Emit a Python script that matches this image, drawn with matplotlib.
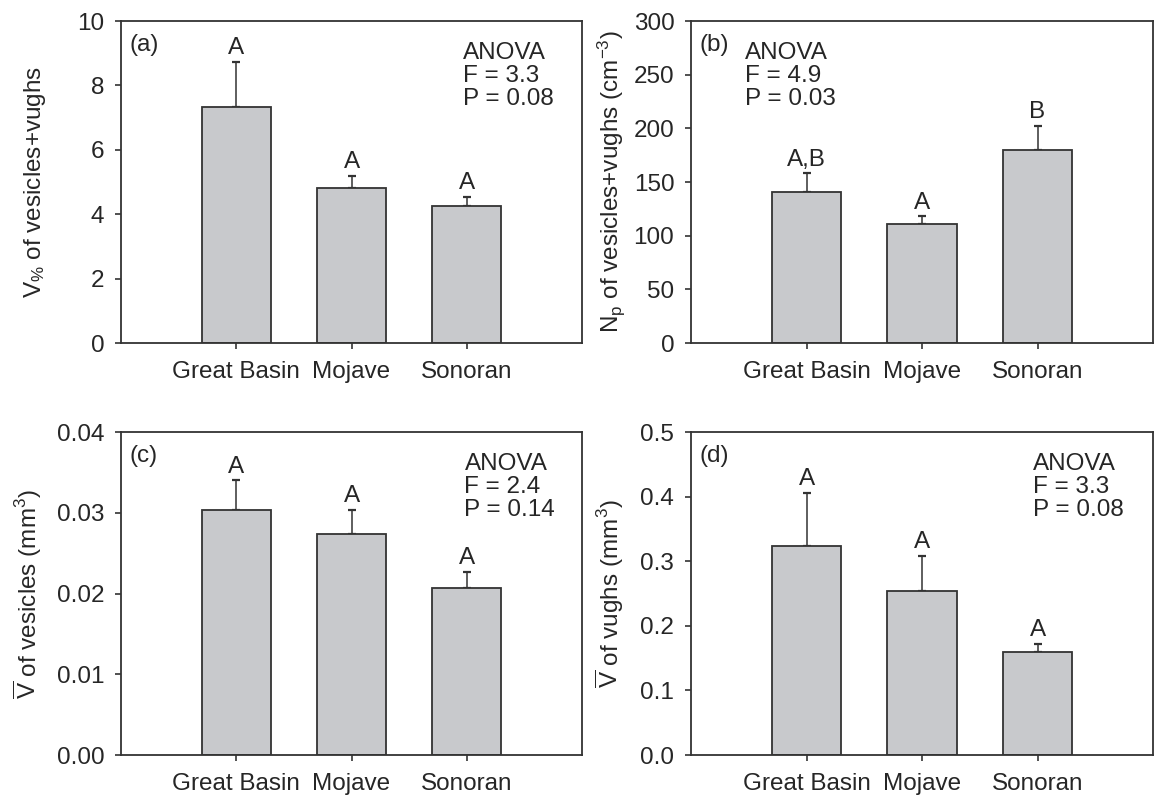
import numpy as np
import matplotlib
matplotlib.use('Agg')
import matplotlib.pyplot as plt
from matplotlib.ticker import FormatStrFormatter

plt.rcParams['font.family'] = ['Liberation Sans', 'DejaVu Sans']
plt.rcParams['mathtext.fontset'] = 'custom'
plt.rcParams['mathtext.rm'] = 'Liberation Sans'
plt.rcParams['mathtext.it'] = 'Liberation Sans:italic'
plt.rcParams['mathtext.bf'] = 'Liberation Sans:bold'
plt.rcParams['mathtext.default'] = 'regular'

# data (mean and upper standard error)
sites = ['Great Basin', 'Mojave', 'Sonoran']

vpct_mean = [7.32, 4.80, 4.27]
vpct_se = [1.41, 0.40, 0.26]
vpct_letters = ['A', 'A', 'A']

np_mean = [141.0, 110.5, 180.0]
np_se = [17.0, 7.5, 22.0]
np_letters = ['A,B', 'A', 'B']

vves_mean = [0.0303, 0.0274, 0.0207]
vves_se = [0.0037, 0.0030, 0.0020]
vves_letters = ['A', 'A', 'A']

vvug_mean = [0.324, 0.254, 0.159]
vvug_se = [0.082, 0.054, 0.0135]
vvug_letters = ['A', 'A', 'A']

panel_tags = ['(a)', '(b)', '(c)', '(d)']
anova_F = ['3.3', '4.9', '2.4', '3.3']
anova_P = ['0.08', '0.03', '0.14', '0.08']

ylabels = [
    'V$_{\\%}$ of vesicles+vughs',
    'N$_{p}$ of vesicles+vughs (cm$^{-3}$)',
    '$\\overline{V}$ of vesicles (mm$^{3}$)',
    '$\\overline{V}$ of vughs (mm$^{3}$)',
]

TXT = '#262626'
FS = 17.5

fig = plt.figure(figsize=(11.55, 8.02), dpi=100)

# axes boxes in figure fraction: left, bottom, width, height
boxes = [
    [0.1048, 0.5723, 0.3991, 0.4015],
    [0.5983, 0.5723, 0.4000, 0.4015],
    [0.1048, 0.0586, 0.3991, 0.4027],
    [0.5983, 0.0586, 0.4000, 0.4027],
]

panels = [
    (vpct_mean, vpct_se, vpct_letters, (0, 10), np.arange(0, 11, 2), '%d'),
    (np_mean, np_se, np_letters, (0, 300), np.arange(0, 301, 50), '%d'),
    (vves_mean, vves_se, vves_letters, (0, 0.04), np.arange(0, 0.041, 0.01), '%.2f'),
    (vvug_mean, vvug_se, vvug_letters, (0, 0.5), np.arange(0, 0.51, 0.1), '%.1f'),
]

anova_x = [0.742, 0.117, 0.745, 0.74]
label_x = [-0.158, -0.138, -0.167, -0.14]

for i, (mean, se, letters, ylim, yticks, fmt) in enumerate(panels):
    ax = fig.add_axes(boxes[i])
    x = np.arange(len(sites))
    ax.bar(x, mean, width=0.6, color='#c8c9cc', edgecolor='#333333',
           linewidth=1.3, zorder=2)
    ax.errorbar(x, mean, yerr=[np.zeros(len(se)), se], fmt='none',
                ecolor='#333333', elinewidth=1.1, capsize=3, capthick=1.6,
                zorder=1)
    for xi, m, s, lab in zip(x, mean, se, letters):
        ax.annotate(lab, (xi, m + s), xytext=(0, 2), textcoords='offset points',
                    ha='center', va='bottom', fontsize=FS, color=TXT)

    ax.set_xlim(-1.0, 3.0)
    ax.set_ylim(*ylim)
    ax.set_xticks(x)
    ax.set_xticklabels(sites)
    ax.set_yticks(yticks)
    ax.yaxis.set_major_formatter(FormatStrFormatter(fmt))
    ax.tick_params(direction='out', length=4, width=1.2, labelsize=FS,
                   colors='#333333', labelcolor=TXT)
    ax.tick_params(axis='y', pad=8)
    ax.tick_params(axis='x', pad=9)
    for sp in ax.spines.values():
        sp.set_linewidth(1.3)
        sp.set_color('#333333')

    ax.set_ylabel(ylabels[i], fontsize=FS, color=TXT)
    ax.yaxis.set_label_coords(label_x[i], 0.5)

    ax.text(0.018, 0.96, panel_tags[i], transform=ax.transAxes, ha='left',
            va='top', fontsize=FS, color=TXT)
    ax.text(anova_x[i], 0.935,
            'ANOVA\nF = %s\nP = %s' % (anova_F[i], anova_P[i]),
            transform=ax.transAxes, ha='left', va='top', fontsize=FS,
            color=TXT, linespacing=1.05)

fig.savefig('out.png', dpi=100)
